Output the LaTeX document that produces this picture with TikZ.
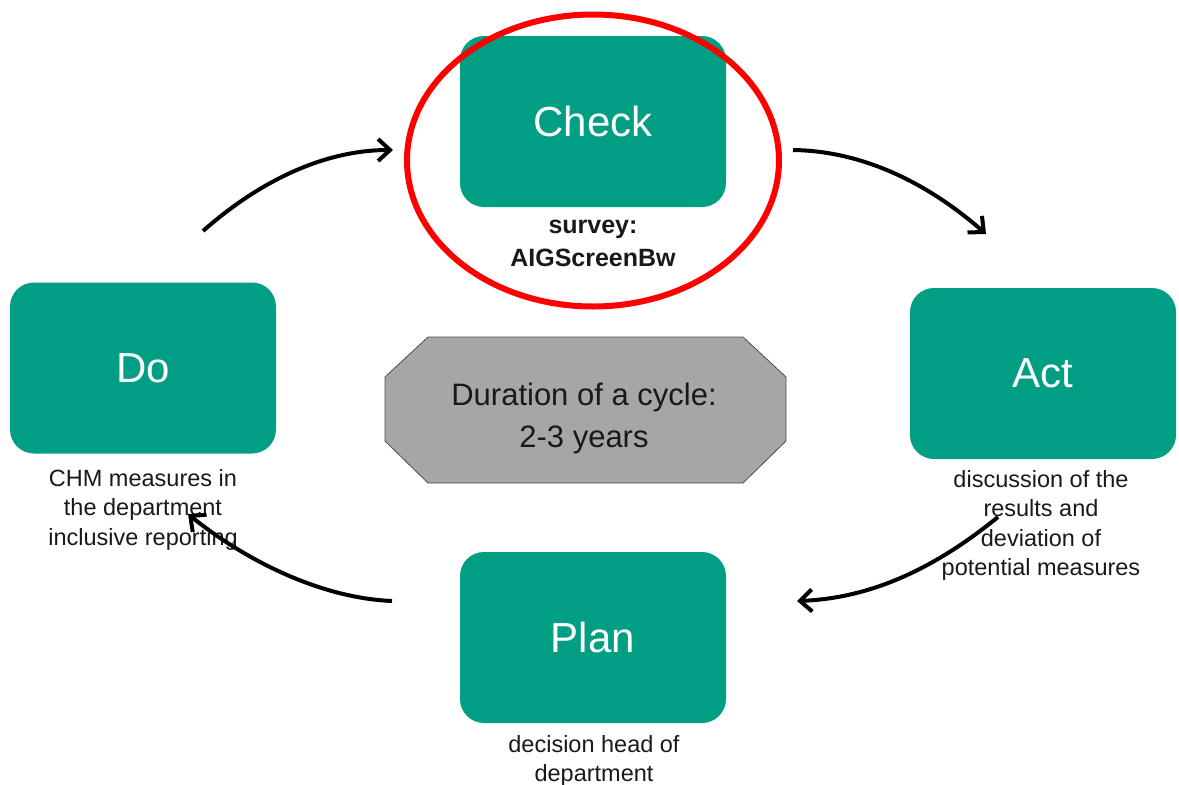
\documentclass[tikz,border=0pt]{standalone}
\usepackage{fontspec}
\setmainfont{Liberation Sans}
\usetikzlibrary{arrows.meta,shapes.geometric}
\definecolor{teal1}{RGB}{0,158,130}
\definecolor{octgray}{RGB}{166,166,166}
\tikzset{
  stage/.style={fill=teal1, rounded corners=24pt, minimum width=266pt, minimum height=171pt,
    text=white, font=\fontsize{42}{48}\selectfont, inner sep=0pt},
  lbl/.style={align=center, font=\fontsize{23.5}{29.5}\selectfont, text=black!90, inner sep=0pt},
  cyc/.style={line width=4pt, -{Straight Barb[length=12pt,width=22pt]}},
  ring/.style={draw=red, line width=6pt, ellipse, minimum width=372pt, minimum height=292pt, inner sep=0pt},
}
\begin{document}
\begin{tikzpicture}[x=1pt,y=-1pt]
\useasboundingbox (0,0) rectangle (1179,785);
% stages
\node[stage] (check) at (593,121.5) {Check};
\node[stage] (do) at (143,368) {Do};
\node[stage] (act) at (1043,373.5) {Act};
\node[stage] (plan) at (593,637.5) {Plan};
% labels
\node[lbl, font=\bfseries\fontsize{25}{33}\selectfont, anchor=north] (checkl) at (593,220) {survey:\\AIGScreenBw};
\node[lbl, anchor=north] (dol) at (143,469) {CHM measures in\\the department\\inclusive reporting};
\node[lbl, anchor=north] (actl) at (1041,470) {discussion of the\\results and\\deviation of\\potential measures};
\node[lbl, anchor=north] (planl) at (594,735) {decision head of\\department};
% red ellipse
\node[ring] (circ) at (593,160.5) {};
% octagon
\draw[fill=octgray, draw=black!70, line width=0.8pt]
  (428,337) -- (743,337) -- (786,377) -- (786,441) -- (743,483) -- (428,483) -- (385,441) -- (385,377) -- cycle;
\node[align=center, font=\fontsize{31}{42}\selectfont, text=black!90, inner sep=0pt] (dur) at (584,418) {Duration of a cycle:\\2-3 years};
% arrows
\coordinate (a1s) at (203,231); \coordinate (a1e) at (393,150);
\coordinate (a2s) at (793,150); \coordinate (a2e) at (986,234);
\coordinate (a3s) at (998,517); \coordinate (a3e) at (797,601);
\coordinate (a4s) at (392,601); \coordinate (a4e) at (188,514);
\draw[cyc] (a1s) .. controls (255,185) and (320,150) .. (a1e);
\draw[cyc] (a2s) .. controls (865,151) and (930,185) .. (a2e);
\draw[cyc] (a3s) .. controls (945,560) and (880,598) .. (a3e);
\draw[cyc] (a4s) .. controls (320,598) and (245,560) .. (a4e);
\end{tikzpicture}
\end{document}
